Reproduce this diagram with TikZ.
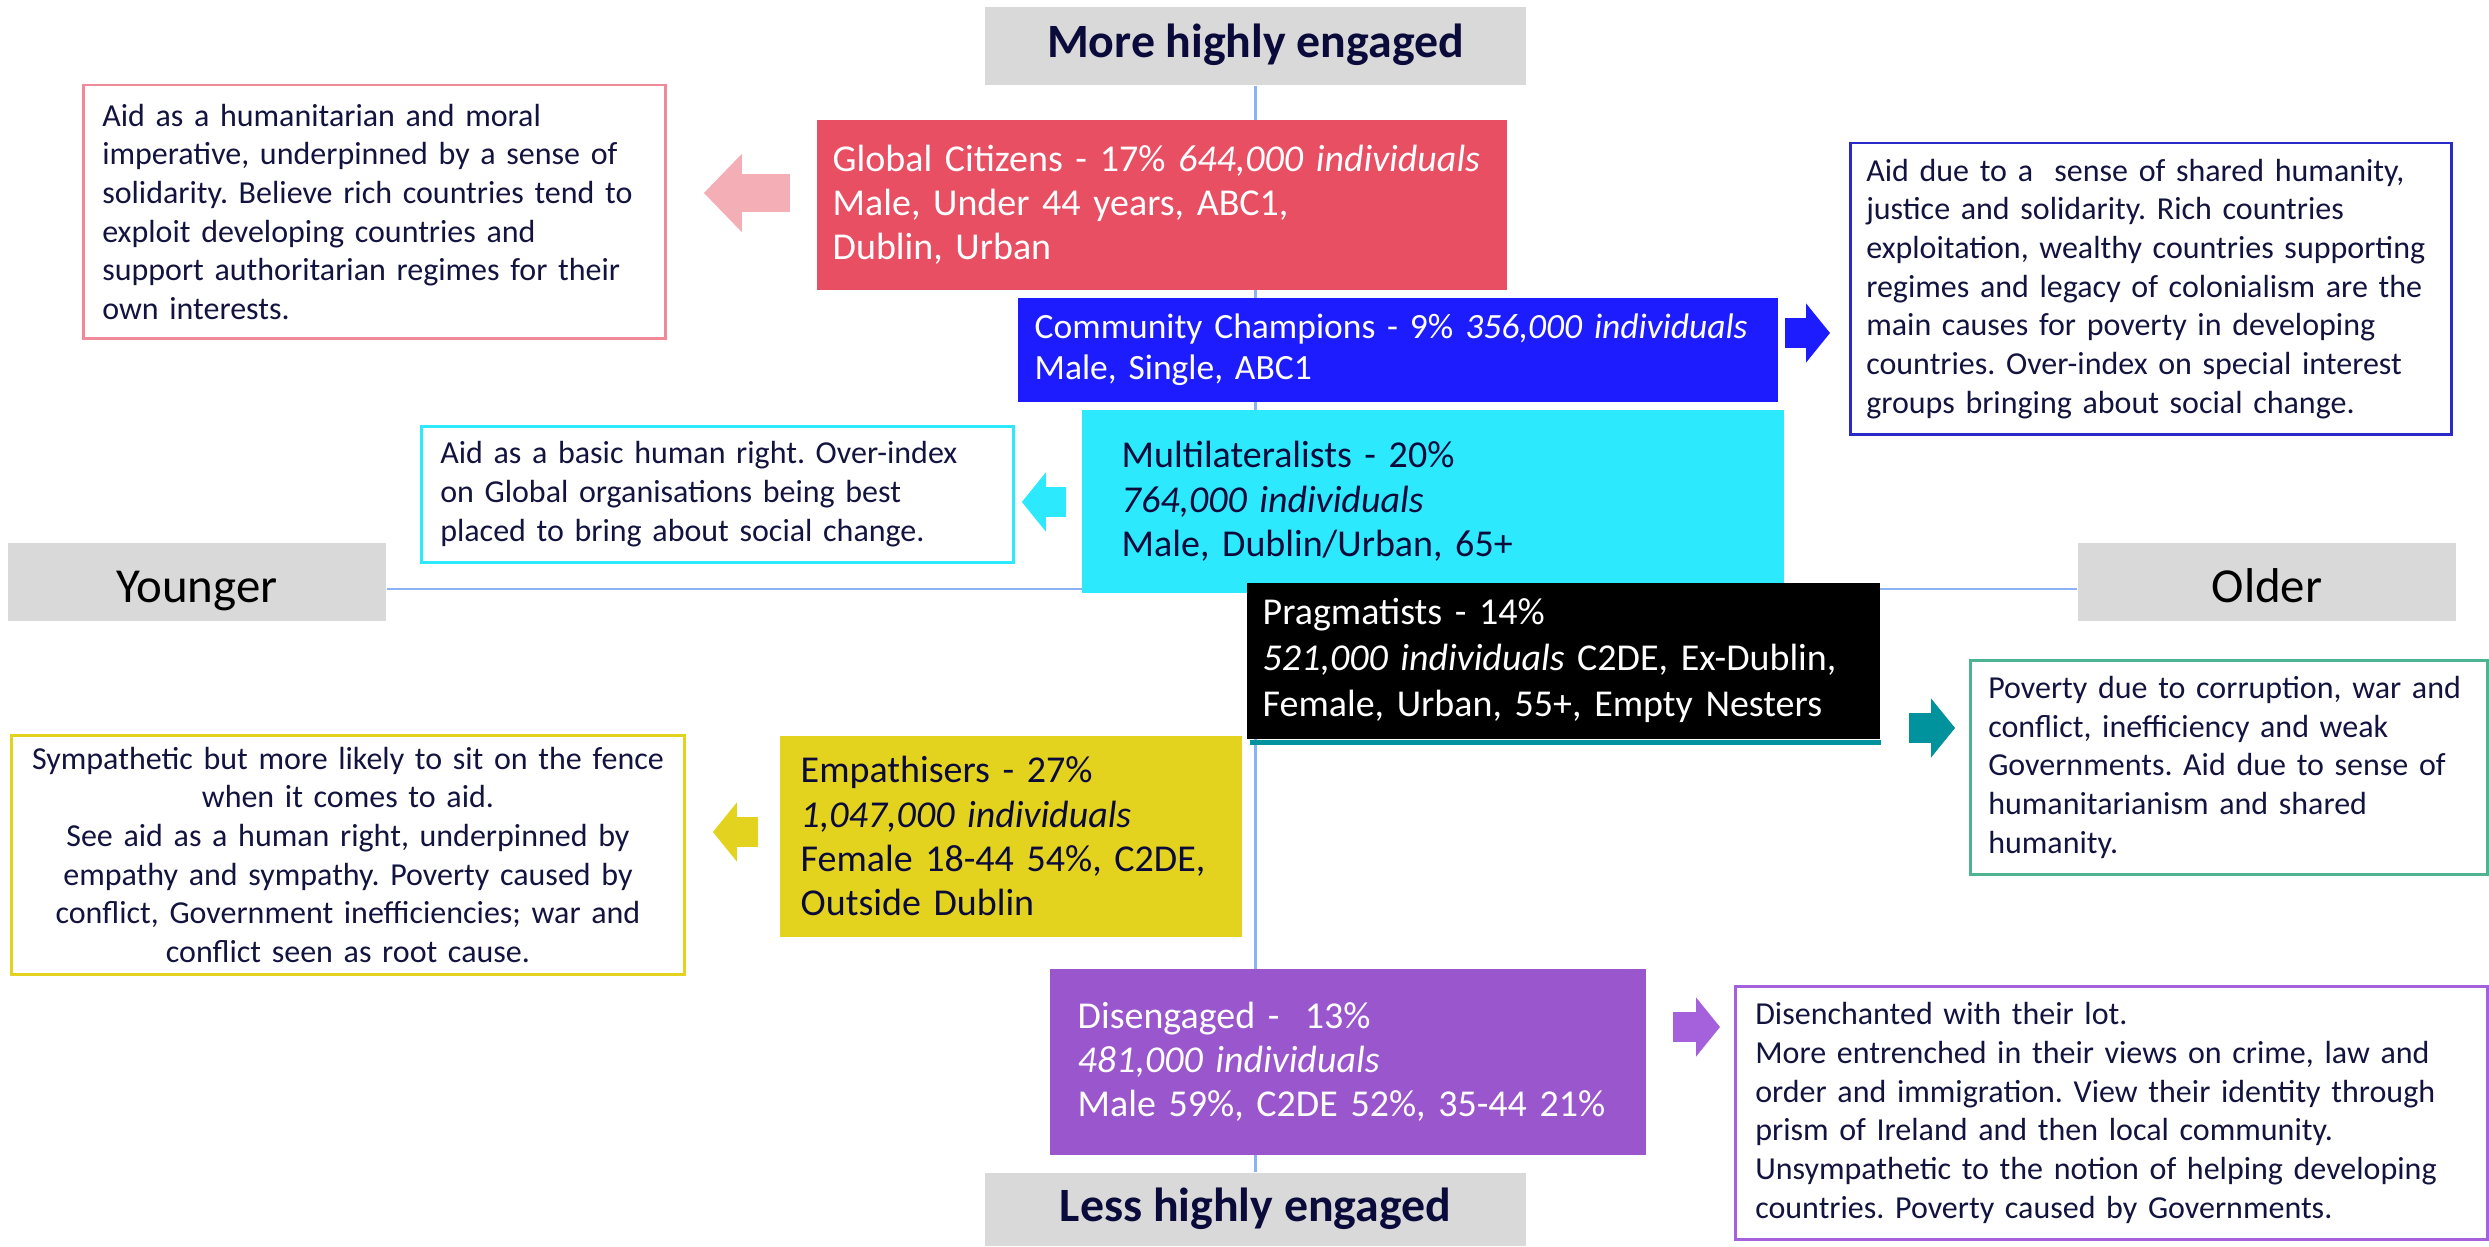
\documentclass[tikz,border=0pt]{standalone}
\usepackage{fontspec}
\setmainfont{Carlito}
\usepackage{tikz}
\usetikzlibrary{arrows.meta}
\usepackage{xcolor}
\frenchspacing

\definecolor{gcred}{HTML}{E84F63}
\definecolor{gcpink}{HTML}{F4AEB6}
\definecolor{gcline}{HTML}{F08A98}
\definecolor{ccblue}{HTML}{1C1CFF}
\definecolor{ccline}{HTML}{2A2AC8}
\definecolor{mlcyan}{HTML}{2CE9FD}
\definecolor{pragteal}{HTML}{00939E}
\definecolor{pragline}{HTML}{4DB391}
\definecolor{empyellow}{HTML}{E3D21E}
\definecolor{dispurple}{HTML}{9A56CC}
\definecolor{disline}{HTML}{A561DB}
\definecolor{axisgray}{HTML}{D9D9D9}
\definecolor{axisblue}{HTML}{8BB2F2}
\definecolor{navytext}{HTML}{13133F}
\definecolor{engnavy}{HTML}{0B0B3B}

\newcommand{\descfont}{\fontsize{9.1}{11.0}\selectfont}
\newcommand{\segfont}{\fontsize{10.8}{12.6}\selectfont}
\newcommand{\engfont}{\fontsize{13.6}{16}\selectfont\bfseries}
\newcommand{\agefont}{\fontsize{13.9}{16}\selectfont}

\tikzstyle{axislabel} = [rectangle, fill=axisgray, inner sep=0pt, minimum width=3.78cm, minimum height=0.78cm]
\tikzstyle{englabel} = [axislabel, minimum width=5.41cm, font=\engfont, text=engnavy, text height=0.34cm, text depth=0.10cm]
\tikzstyle{agelabel} = [axislabel, font=\agefont, text height=0.40cm, text depth=0cm]
\tikzstyle{axisline} = [axisblue, line width=0.025cm]
\tikzstyle{segbox} = [rectangle, anchor=north west, align=left, inner ysep=2pt, text=white, font=\segfont]
\tikzstyle{descbox} = [rectangle, draw, anchor=north west, align=left, line width=0.025cm, inner xsep=0.19cm, text=navytext, font=\descfont]
\tikzstyle{fatarrow} = [line width=0.30cm, -{Triangle[length=0.24cm, width=0.58cm]}]

\begin{document}
\begin{tikzpicture}[x=0.01cm, y=-0.01cm]
  \useasboundingbox (0,0) rectangle (2489,1246);

  % axis labels and axes
  \node (more) [englabel] at (1255.5,46) {More highly engaged};
  \node (less) [englabel, minimum height=0.73cm] at (1255.5,1209.5) {Less highly engaged};
  \node (younger) [agelabel] at (197,582) {Younger};
  \node (older) [agelabel] at (2267,582) {Older};

  \draw[axisline] (more) -- (less);
  \draw[axisline] (younger.east |- 0,589) -- (older.west |- 0,589);

  % segments
  \node (gc) [segbox, fill=gcred, text width=6.58cm, minimum height=1.70cm, inner xsep=0.16cm] at (816,119)
    {Global Citizens - 17\% \textit{644,000 individuals}\\Male, Under 44 years, ABC1,\\Dublin, Urban};
  \node (cc) [segbox, fill=ccblue, text width=7.26cm, minimum height=1.04cm, inner xsep=0.17cm, font=\fontsize{10.1}{11.75}\selectfont] at (1017,297)
    {Community Champions - 9\% \textit{356,000 individuals}\\Male, Single, ABC1};
  \node (ml) [segbox, fill=mlcyan, text=engnavy, text width=6.22cm, minimum height=1.83cm, inner xsep=0.40cm] at (1081,409)
    {Multilateralists - 20\%\\\textit{764,000 individuals}\\Male, Dublin/Urban, 65+};
  \node (prag) [segbox, fill=black, text width=6.01cm, minimum height=1.56cm, inner xsep=0.16cm, font=\fontsize{10.8}{13.1}\selectfont] at (1246,582)
    {Pragmatists - 14\%\\\textit{521,000 individuals} C2DE, Ex-Dublin,\\Female, Urban, 55+, Empty Nesters};
  \fill[pragteal] ([xshift=0.04cm]prag.south west) rectangle ([yshift=-0.05cm]prag.south east);
  \node (emp) [segbox, fill=empyellow, text=engnavy, text width=4.20cm, minimum height=2.01cm, inner xsep=0.21cm] at (779,735)
    {Empathisers - 27\%\\\textit{1,047,000 individuals}\\Female 18-44 54\%, C2DE,\\Outside Dublin};
  \node (dis) [segbox, fill=dispurple, text width=5.40cm, minimum height=1.86cm, inner xsep=0.28cm] at (1049,968)
    {Disengaged -\ \ 13\%\\\textit{481,000 individuals}\\Male 59\%, C2DE 52\%, 35-44 21\%};

  % descriptions
  \node (gcd) [descbox, draw=gcline, text width=5.44cm, minimum height=2.53cm] at (82,84)
    {Aid as a humanitarian and moral\\imperative, underpinned by a sense of\\solidarity. Believe rich countries tend to\\exploit developing countries and\\support authoritarian regimes for their\\own interests.};
  \node (ccd) [descbox, draw=ccline, text width=5.69cm, minimum height=2.91cm, inner xsep=0.16cm] at (1849,142)
    {Aid due to a\ \ sense of shared humanity,\\justice and solidarity. Rich countries\\exploitation, wealthy countries supporting\\regimes and legacy of colonialism are the\\main causes for poverty in developing\\countries. Over-index on special interest\\groups bringing about social change.};
  \node (mld) [descbox, draw=mlcyan, text width=5.54cm, minimum height=1.36cm] at (420,425)
    {Aid as a basic human right. Over-index\\on Global organisations being best\\placed to bring about social change.};
  \node (empd) [descbox, draw=empyellow, align=center, text width=6.43cm, minimum height=2.35cm, inner xsep=0.15cm] at (10,734)
    {Sympathetic but more likely to sit on the fence\\when it comes to aid.\\See aid as a human right, underpinned by\\empathy and sympathy. Poverty caused by\\conflict, Government inefficiencies; war and\\conflict seen as root cause.};
  \node (pragd) [descbox, draw=pragline, text width=4.81cm, minimum height=2.14cm, inner xsep=0.18cm] at (1969,659)
    {Poverty due to corruption, war and\\conflict, inefficiency and weak\\Governments. Aid due to sense of\\humanitarianism and shared\\humanity.};
  \node (disd) [descbox, draw=disline, text width=7.12cm, minimum height=2.53cm, inner xsep=0.20cm] at (1734,985)
    {Disenchanted with their lot.\\More entrenched in their views on crime, law and\\order and immigration. View their identity through\\prism of Ireland and then local community.\\Unsympathetic to the notion of helping developing\\countries. Poverty caused by Governments.};

  % arrows from segments to descriptions
  \draw[fatarrow, gcpink, line width=0.38cm, -{Triangle[length=0.38cm, width=0.76cm]}, shorten <=0.26cm, shorten >=0.37cm] (gc.west |- 0,193) -- (gcd.east |- 0,193);
  \draw[fatarrow, ccblue, shorten <=0.06cm, shorten >=0.19cm] (cc.east |- 0,333) -- (ccd.west |- 0,333);
  \draw[fatarrow, mlcyan, shorten <=0.15cm, shorten >=0.07cm] (ml.west |- 0,502) -- (mld.east |- 0,502);
  \draw[fatarrow, pragteal, shorten <=0.28cm, shorten >=0.14cm] (prag.east |- 0,728) -- (pragd.west |- 0,728);
  \draw[fatarrow, empyellow, shorten <=0.21cm, shorten >=0.27cm] (emp.west |- 0,832) -- (empd.east |- 0,832);
  \draw[fatarrow, disline, shorten <=0.26cm, shorten >=0.14cm] (dis.east |- 0,1027) -- (disd.west |- 0,1027);
\end{tikzpicture}
\end{document}
